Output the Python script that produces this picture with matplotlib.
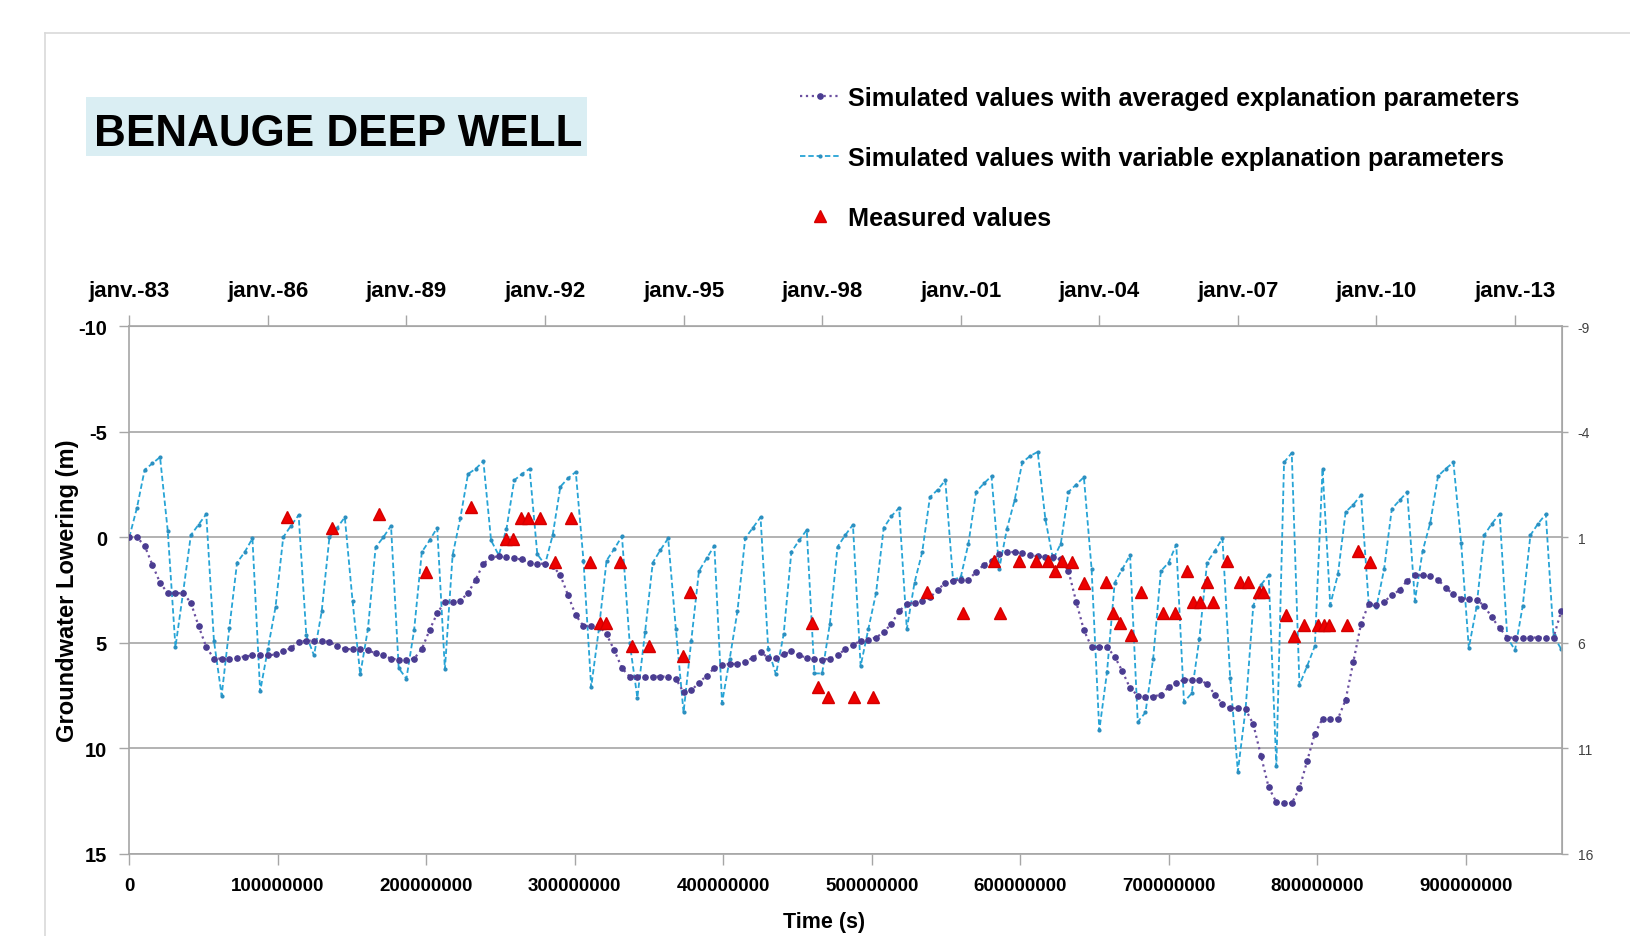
import numpy as np
import matplotlib.pyplot as plt
from matplotlib.patches import Rectangle
from matplotlib.lines import Line2D

plt.rcParams.update({
    'font.family': ['Liberation Sans', 'DejaVu Sans'],
    'font.weight': 'bold',
    'axes.unicode_minus': False,
})

# model output every 60 days (360-day years, 6 steps per year)
step = 60 * 86400

# simulated lowering (m), averaged explanation parameters
avg_vals = [
    0, 0, 0.4, 1.3, 2.15, 2.65, 2.65, 2.65, 3.1, 4.2,
    5.2, 5.75, 5.75, 5.75, 5.7, 5.65, 5.6, 5.6, 5.6, 5.55,
    5.4, 5.25, 4.95, 4.9, 4.9, 4.9, 4.95, 5.15, 5.3, 5.3,
    5.3, 5.35, 5.5, 5.6, 5.75, 5.8, 5.8, 5.75, 5.3, 4.4,
    3.6, 3.05, 3.05, 3.0, 2.65, 2.0, 1.25, 0.95, 0.9, 0.95,
    1.0, 1.05, 1.2, 1.25, 1.25, 1.35, 1.8, 2.75, 3.7, 4.2,
    4.2, 4.2, 4.6, 5.35, 6.2, 6.6, 6.6, 6.6, 6.6, 6.6,
    6.6, 6.7, 7.35, 7.25, 6.9, 6.55, 6.2, 6.05, 6.0, 6.0,
    5.9, 5.7, 5.45, 5.7, 5.7, 5.55, 5.4, 5.6, 5.7, 5.75,
    5.8, 5.75, 5.6, 5.3, 5.1, 4.9, 4.85, 4.75, 4.5, 4.1,
    3.5, 3.15, 3.1, 3.0, 2.85, 2.5, 2.15, 2.05, 2.0, 2.0,
    1.65, 1.3, 1.1, 0.8, 0.7, 0.7, 0.75, 0.85, 0.9, 0.95,
    0.95, 1.05, 1.6, 3.05, 4.4, 5.2, 5.2, 5.2, 5.65, 6.35,
    7.15, 7.5, 7.55, 7.55, 7.45, 7.1, 6.9, 6.75, 6.75, 6.75,
    6.95, 7.45, 7.9, 8.1, 8.1, 8.15, 8.85, 10.35, 11.85, 12.55,
    12.6, 12.6, 11.9, 10.6, 9.3, 8.6, 8.6, 8.6, 7.7, 5.9,
    4.1, 3.15, 3.2, 3.05, 2.75, 2.5, 2.05, 1.8, 1.8, 1.85,
    2.0, 2.4, 2.7, 2.9, 2.9, 2.95, 3.25, 3.8, 4.3, 4.75,
    4.75, 4.75, 4.75, 4.75, 4.75, 4.75, 3.5,
]

# simulated lowering (m), variable explanation parameters
var_vals = [
    0, -1.4, -3.2, -3.5, -3.8, -0.3, 5.2, 2.6, -0.1, -0.6,
    -1.1, 4.9, 7.5, 4.3, 1.2, 0.7, 0.05, 7.3, 5.3, 3.3,
    0, -0.55, -1.05, 4.65, 5.6, 3.5, 0, -0.45, -0.95, 3.0,
    6.5, 4.35, 0.47, 0, -0.55, 6.2, 6.7, 4.4, 0.7, 0.15,
    -0.45, 6.25, 0.85, -0.9, -3.0, -3.25, -3.6, 0.15, 0.85, -0.4,
    -2.7, -3.0, -3.25, 0.8, 1.3, -0.1, -2.4, -2.8, -3.1, 1.1,
    7.1, 4.35, 1.1, 0.55, -0.05, 5.0, 7.6, 4.5, 1.2, 0.6,
    0.05, 4.35, 8.3, 4.9, 1.6, 1.0, 0.4, 7.85, 5.75, 3.5,
    0.05, -0.45, -0.95, 5.3, 6.5, 4.6, 0.7, 0.15, -0.35, 6.45,
    6.45, 4.1, 0.45, -0.1, -0.6, 6.1, 4.35, 2.65, -0.45, -1.0,
    -1.4, 4.35, 2.15, 0.7, -1.9, -2.25, -2.7, 2.0, 1.9, 0.3,
    -2.15, -2.55, -2.9, 1.5, -0.4, -1.75, -3.55, -3.85, -4.05, -0.85,
    1.05, 0.3, -2.15, -2.5, -2.85, 1.5, 9.15, 6.4, 2.15, 1.5,
    0.85, 8.75, 8.3, 5.75, 1.6, 1.2, 0.35, 7.8, 7.4, 4.8,
    1.2, 0.65, 0.05, 6.65, 11.1, 8.15, 3.25, 2.25, 1.8, 10.85,
    -3.55, -4.0, 7.0, 6.1, 5.15, -3.25, 3.2, 1.75, -1.2, -1.55,
    -2.0, 3.15, 3.3, 1.5, -1.35, -1.75, -2.15, 3.0, 0.65, -0.7,
    -2.9, -3.25, -3.55, 0.25, 5.25, 3.3, -0.1, -0.65, -1.1, 4.75,
    5.35, 3.25, -0.1, -0.65, -1.1, 4.65, 5.3,
]

# field measurements: time (1e8 s) and lowering (m)
meas_t = [
    1.065, 1.368, 1.685, 2.00, 2.30, 2.536, 2.581, 2.64, 2.682, 2.768,
    2.869, 2.974, 3.104, 3.167, 3.212, 3.302, 3.385, 3.497, 3.729, 3.778,
    4.594, 4.639, 4.704, 4.883, 5.009, 5.369, 5.616, 5.822, 5.862, 5.99,
    6.103, 6.186, 6.231, 6.283, 6.35, 6.429, 6.575, 6.627, 6.671, 6.748,
    6.81, 6.963, 7.039, 7.12, 7.166, 7.21, 7.255, 7.30, 7.39, 7.48,
    7.534, 7.608, 7.637, 7.788, 7.844, 7.907, 8.006, 8.046, 8.08, 8.197,
    8.275, 8.356,
]
meas_v = [
    -0.95, -0.45, -1.1, 1.66, -1.42, 0.08, 0.08, -0.9, -0.9, -0.9,
    1.15, -0.9, 1.15, 4.06, 4.06, 1.15, 5.13, 5.13, 5.64, 2.6,
    4.06, 7.1, 7.58, 7.58, 7.58, 2.6, 3.6, 1.1, 3.6, 1.1,
    1.1, 1.1, 1.58, 1.1, 1.18, 2.16, 2.1, 3.6, 4.06, 4.63,
    2.58, 3.6, 3.6, 1.58, 3.05, 3.05, 2.1, 3.05, 1.1, 2.1,
    2.1, 2.58, 2.58, 3.7, 4.7, 4.15, 4.15, 4.15, 4.15, 4.15,
    0.63, 1.15,
]

year_labels = ['janv.-83', 'janv.-86', 'janv.-89', 'janv.-92', 'janv.-95', 'janv.-98',
               'janv.-01', 'janv.-04', 'janv.-07', 'janv.-10', 'janv.-13']

t = np.arange(len(avg_vals)) * step
grey = '#a6a6a6'

fig = plt.figure(figsize=(16.3, 9.37), dpi=100)
ax = fig.add_axes([0.0793, 0.0877, 0.8792, 0.5630])

l_var, = ax.plot(t, var_vals, color='#27a4d6', ls=(0, (3, 1.6)), lw=1.3,
                 marker='.', ms=4, mfc='#2b8fc0', mec='#2b8fc0', zorder=2,
                 label='Simulated values with variable explanation parameters')
l_avg, = ax.plot(t, avg_vals, color='#6b4fa0', ls=':', lw=1.6,
                 marker='o', ms=3.8, mfc='#4a3c91', mec='#4a3c91', zorder=3,
                 label='Simulated values with averaged explanation parameters')
l_meas, = ax.plot(np.array(meas_t) * 1e8, meas_v, ls='none', marker='^', ms=9,
                  color='#ee0000', mec='#d40000', zorder=4, label='Measured values')

ax.set_xlim(0, 9.65e8)
ax.set_ylim(15, -10)
ax.set_yticks(np.arange(-10, 16, 5))
xt = np.arange(0, 9.5e8, 1e8)
ax.set_xticks(xt, ['%d' % v for v in xt])
ax.grid(axis='y', color=grey, lw=1.2)
for s in ax.spines.values():
    s.set_color(grey)
    s.set_linewidth(1.2)
ax.tick_params(axis='y', colors=grey, labelcolor='black', length=7, width=1,
               pad=9, labelsize=14.5)
ax.tick_params(axis='x', colors=grey, labelcolor='black', length=8, width=1,
               pad=9, labelsize=13.5)

# calendar axis on top
top = ax.secondary_xaxis('top')
top.set_xticks(np.arange(len(year_labels)) * 3 * 360 * 86400, year_labels)
top.tick_params(colors=grey, labelcolor='black', length=8, width=1, pad=10,
                labelsize=16)
top.spines['top'].set_color(grey)

# right axis shifted by 1 m
right = ax.secondary_yaxis('right', functions=(lambda y: y + 1, lambda y: y - 1))
right.set_yticks([-9, -4, 1, 6, 11, 16])
right.tick_params(colors=grey, labelcolor='#404040', length=4, width=1, pad=7,
                  labelsize=10)
for lab in right.get_yticklabels():
    lab.set_fontweight('normal')
right.spines['right'].set_color(grey)

ax.set_ylabel('Groundwater Lowering (m)', fontsize=17, fontweight='bold')
ax.yaxis.set_label_coords(-0.035, 0.5)
ax.set_xlabel('Time (s)', fontsize=15.5, fontweight='bold')
ax.xaxis.set_label_coords(0.485, -0.109)

# title block
fig.add_artist(Rectangle((0.0528, 0.8324), 0.3074, 0.063, transform=fig.transFigure,
                         facecolor='#daeef3', edgecolor='none'))
fig.text(0.0574, 0.8447, 'BENAUGE DEEP WELL', fontsize=31.7, fontweight='bold',
         va='baseline')

# chart area border
fig.add_artist(Line2D([0.0274, 1], [0.9634, 0.9634], transform=fig.transFigure,
                      color='#d9d9d9', lw=1.2))
fig.add_artist(Line2D([0.0274, 0.0274], [0, 0.9634], transform=fig.transFigure,
                      color='#d9d9d9', lw=1.2))

fig.legend(handles=[l_avg, l_var, l_meas], loc='upper left',
           bbox_to_anchor=(0.4908, 0.907), frameon=False,
           prop={'weight': 'bold', 'size': 18.2}, handlelength=1.6,
           handletextpad=0.3, labelspacing=1.42, borderpad=0,
           borderaxespad=0, numpoints=1)

fig.savefig('out.png', dpi=100)
